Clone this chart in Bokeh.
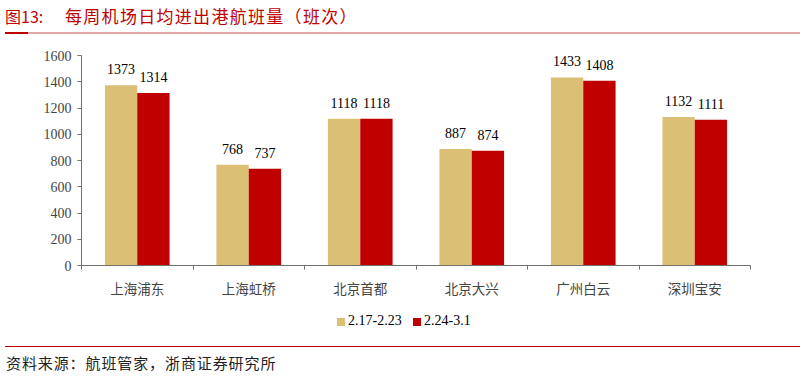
from bokeh.plotting import figure
from bokeh.layouts import column
from bokeh.models import ColumnDataSource, FixedTicker, Range1d, Div
from bokeh.transform import dodge
from bokeh.embed import file_html
from bokeh.resources import INLINE
from bokeh.core.properties import value

categories = ["上海浦东", "上海虹桥", "北京首都", "北京大兴", "广州白云", "深圳宝安"]
series_names = ["2.17-2.23", "2.24-3.1"]
week1 = [1373, 768, 1118, 887, 1433, 1132]
week2 = [1314, 737, 1118, 874, 1408, 1111]
y_ticks = [0, 200, 400, 600, 800, 1000, 1200, 1400, 1600]
fig_no = "图13:"
title_text = "每周机场日均进出港航班量（班次）"
source_text = "资料来源：航班管家，浙商证券研究所"

C1 = "#DBBF74"
C2 = "#C00000"
SERIF = "Liberation Serif"
CJK = "Noto Sans CJK SC"
W = 802
H_TOP, H_MAIN, H_LEG, H_FOOT = 40, 260, 40, 38

# ---- title strip (HTML)
top_html = (
    f'<div style="position:relative;width:{W}px;height:{H_TOP}px;font-family:\'{CJK}\';color:{C2};">'
    f'<span style="position:absolute;left:5px;top:4px;font-size:16px;line-height:24px;white-space:nowrap;">{fig_no}</span>'
    f'<span style="position:absolute;left:65px;top:4px;font-size:17px;line-height:24px;letter-spacing:1.3px;white-space:nowrap;">{title_text}</span>'
    f'<div style="position:absolute;left:5px;top:32px;width:795px;height:1.5px;background:#E3A5A5;"></div>'
    f'<div style="position:absolute;left:5px;top:31.5px;width:23px;height:2.5px;background:{C2};"></div>'
    '</div>'
)
top = Div(text=top_html, width=W, height=H_TOP, margin=0)

# ---- main chart
FL, FR, FT, FB = 81, 52, 15, 31
xs = [i + 0.5 for i in range(len(categories))]
src = ColumnDataSource(dict(x=xs, a=week1, b=week2,
                            at=[str(v) for v in week1], bt=[str(v) for v in week2]))

p = figure(width=W, height=H_MAIN, output_backend="svg", toolbar_location=None,
           x_range=Range1d(0, len(categories)), y_range=Range1d(0, 1600),
           min_border_left=FL, min_border_right=FR, min_border_top=FT,
           min_border_bottom=FB, margin=0)
p.outline_line_color = None
p.xgrid.visible = False
p.ygrid.visible = False

bw = 0.29
r1 = p.vbar(x=dodge("x", -bw / 2, range=p.x_range), top="a", width=bw, source=src,
            fill_color=C1, line_color=None)
r2 = p.vbar(x=dodge("x", bw / 2, range=p.x_range), top="b", width=bw, source=src,
            fill_color=C2, line_color=None)

for col, off in (("at", -bw / 2), ("bt", bw / 2)):
    p.text(x=dodge("x", off, range=p.x_range), y=col[0], text=col, source=src,
           text_align="center", text_baseline="bottom", y_offset=-11,
           text_font=value(SERIF), text_font_size="14px", text_color="black")

xa = p.xaxis[0]
xa.ticker = FixedTicker(ticks=xs, minor_ticks=list(range(len(categories) + 1)))
xa.major_label_overrides = {x: c for x, c in zip(xs, categories)}
xa.major_tick_out = 0
xa.major_tick_in = 0
xa.minor_tick_out = 4
xa.minor_tick_in = 0
xa.minor_tick_line_color = "#707070"
xa.axis_line_color = "#707070"
xa.major_label_text_font = CJK
xa.major_label_text_font_size = "13.5px"
xa.major_label_standoff = 8

ya = p.yaxis[0]
ya.ticker = FixedTicker(ticks=y_ticks)
ya.minor_tick_line_color = None
ya.major_tick_out = 4
ya.major_tick_in = 0
ya.major_tick_line_color = "#707070"
ya.axis_line_color = "#707070"
ya.major_label_text_font = SERIF
ya.major_label_text_font_size = "14px"
ya.major_label_standoff = 6

# ---- legend strip (HTML)
def leg_item(color, label, left):
    return (f'<div style="position:absolute;left:{left}px;top:18px;width:8px;height:8px;background:{color};"></div>'
            f'<span style="position:absolute;left:{left + 11}px;top:12px;font-family:\'{SERIF}\';font-size:14px;'
            f'line-height:18px;color:#000;white-space:nowrap;">{label}</span>')

leg_html = (f'<div style="position:relative;width:{W}px;height:{H_LEG}px;">'
            + leg_item(C1, series_names[0], 337) + leg_item(C2, series_names[1], 413) + '</div>')
leg = Div(text=leg_html, width=W, height=H_LEG, margin=0)

# ---- footer strip (HTML)
foot_html = (
    f'<div style="position:relative;width:{W}px;height:{H_FOOT}px;font-family:\'{CJK}\';color:#222222;">'
    f'<div style="position:absolute;left:5px;top:5.5px;width:795px;height:1.5px;background:{C2};"></div>'
    f'<span style="position:absolute;left:6px;top:12px;font-size:15px;line-height:22px;letter-spacing:0.9px;white-space:nowrap;">{source_text}</span>'
    '</div>'
)
foot = Div(text=foot_html, width=W, height=H_FOOT, margin=0)

layout = column(top, p, leg, foot, spacing=0)
open("out.html", "w").write(file_html(layout, INLINE))
